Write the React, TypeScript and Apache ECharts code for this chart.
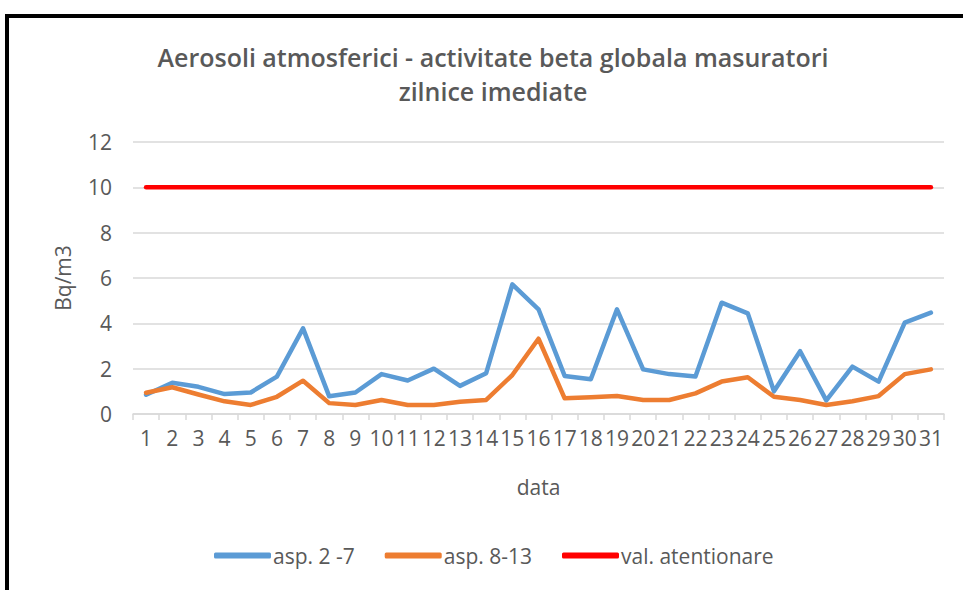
import React, { useEffect, useRef } from "react";
import * as echarts from "echarts";

const days = ["1","2","3","4","5","6","7","8","9","10","11","12","13","14","15","16","17","18","19","20","21","22","23","24","25","26","27","28","29","30","31"];
const asp27 = [0.85, 1.38, 1.2, 0.88, 0.95, 1.65, 3.78, 0.78, 0.95, 1.76, 1.48, 2.0, 1.24, 1.8, 5.72, 4.62, 1.68, 1.53, 4.62, 1.97, 1.76, 1.65, 4.91, 4.44, 1.0, 2.77, 0.6, 2.09, 1.43, 4.03, 4.47];
const asp813 = [0.94, 1.18, 0.86, 0.56, 0.4, 0.76, 1.47, 0.48, 0.4, 0.62, 0.4, 0.4, 0.54, 0.62, 1.72, 3.32, 0.69, 0.74, 0.79, 0.62, 0.62, 0.91, 1.43, 1.62, 0.76, 0.62, 0.4, 0.56, 0.79, 1.76, 1.97];
const valAtentionare = [10, 10, 10, 10, 10, 10, 10, 10, 10, 10, 10, 10, 10, 10, 10, 10, 10, 10, 10, 10, 10, 10, 10, 10, 10, 10, 10, 10, 10, 10, 10];
const yTicks = { min: 0, max: 12, interval: 2 };

const titleLines = ["Aerosoli atmosferici - activitate beta globala masuratori", "zilnice imediate"];

export default function App() {
  const ref = useRef<HTMLDivElement>(null);
  useEffect(() => {
    document.body.style.margin = "0";
    const chart = echarts.init(ref.current!, null, { renderer: "svg" });
    const font = "'Open Sans', 'Noto Sans', sans-serif";
    const textColor = "#595959";
    chart.setOption({
      animation: false,
      backgroundColor: "#ffffff",
      textStyle: { fontFamily: font },
      graphic: [
        { type: "rect", shape: { x: 5, y: 14, width: 960, height: 4 }, style: { fill: "#000" }, silent: true },
        { type: "rect", shape: { x: 5, y: 14, width: 4, height: 580 }, style: { fill: "#000" }, silent: true },
        {
          type: "text",
          x: 493,
          y: 40,
          style: {
            text: titleLines.join("\n"),
            fontFamily: font,
            fontSize: 25,
            fontWeight: 600,
            fill: textColor,
            align: "center",
            verticalAlign: "top",
            lineHeight: 34,
          },
        },
      ],
      legend: {
        left: 209,
        top: 540,
        icon: "roundRect",
        itemWidth: 57,
        itemHeight: 6,
        itemGap: 30,
        textStyle: { fontFamily: font, fontSize: 21, color: textColor, padding: [0, 0, 0, -3] },
        data: ["asp. 2 -7", "asp. 8-13", "val. atentionare"],
      },
      grid: { left: 133, right: 19, top: 142, bottom: 176 },
      xAxis: {
        type: "category",
        data: days,
        boundaryGap: true,
        name: "data",
        nameLocation: "middle",
        nameGap: 62,
        nameTextStyle: { fontFamily: font, fontSize: 21, color: textColor },
        axisLine: { lineStyle: { color: "#d9d9d9", width: 1.5 } },
        axisTick: { show: true, length: 6, lineStyle: { color: "#d9d9d9", width: 1.5 } },
        axisLabel: { interval: 0, fontFamily: font, fontSize: 21, color: textColor, margin: 13 },
      },
      yAxis: {
        type: "value",
        min: yTicks.min,
        max: yTicks.max,
        interval: yTicks.interval,
        name: "Bq/m3",
        nameLocation: "middle",
        nameGap: 60,
        nameRotate: 90,
        nameTextStyle: { fontFamily: font, fontSize: 21, color: textColor },
        axisLine: { show: false },
        axisTick: { show: false },
        splitLine: { lineStyle: { color: "#d9d9d9", width: 1.5 } },
        axisLabel: { fontFamily: font, fontSize: 21, color: textColor, margin: 21 },
      },
      series: [
        {
          name: "asp. 2 -7",
          type: "line",
          data: asp27,
          symbol: "none",
          color: "#5B9BD5",
          lineStyle: { width: 4.5, color: "#5B9BD5", cap: "round", join: "round" },
          z: 3,
        },
        {
          name: "asp. 8-13",
          type: "line",
          data: asp813,
          symbol: "none",
          color: "#ED7D31",
          lineStyle: { width: 4.5, color: "#ED7D31", cap: "round", join: "round" },
          z: 4,
        },
        {
          name: "val. atentionare",
          type: "line",
          data: valAtentionare,
          symbol: "none",
          color: "#FF0000",
          lineStyle: { width: 4.5, color: "#FF0000", cap: "round", join: "round" },
          z: 5,
        },
      ],
    });
    return () => chart.dispose();
  }, []);
  return <div ref={ref} style={{ width: 963, height: 590, position: "absolute", left: 0, top: 0 }} />;
}
